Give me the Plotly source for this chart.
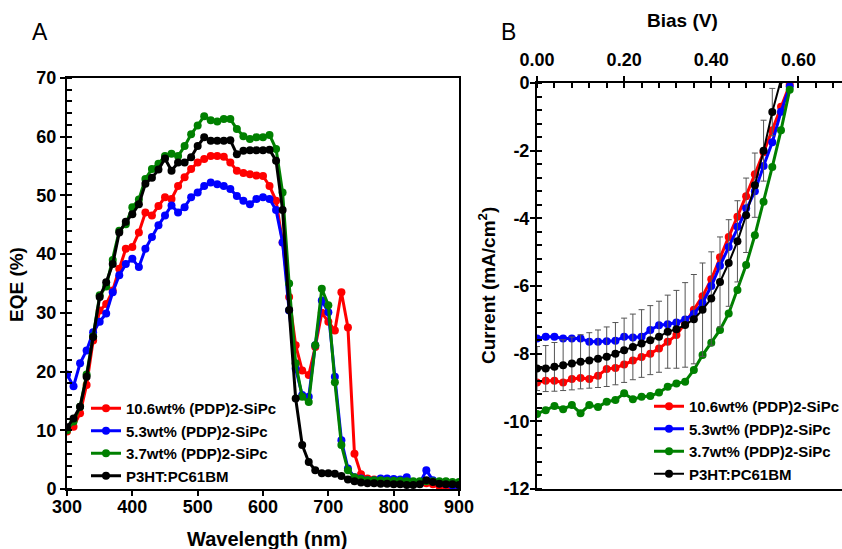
import plotly.graph_objects as go

# ---------------- Panel A : EQE ----------------
wavelength = list(range(300, 901, 10))

eqe_106 = [9.8, 10.6, 12.9, 17.7, 25.3, 30.4, 31.5, 33.8, 37.5, 40.9,
           41.2, 43.7, 47.1, 46.6, 48.2, 49.7, 49.4, 51.6, 53.1, 54.5,
           55.6, 56.2, 56.7, 56.7, 56.6, 55.6, 54.2, 53.8, 53.6, 53.4,
           53.3, 51.6, 49.1, 42.0, 32.7, 24.5, 20.2, 19.4, 24.2, 30.0,
           28.5, 27.0, 33.5, 27.5, 6.0, 2.5, 1.8, 1.6, 1.5, 1.5,
           1.5, 1.4, 1.3, 1.2, 1.2, 1.0, 0.8, 0.5, 0.4, 0.3, 0.3]
eqe_53 = [19.5, 17.5, 21.4, 23.6, 26.7, 28.5, 29.9, 33.5, 36.4, 38.3,
          39.2, 37.8, 40.9, 42.9, 44.9, 46.6, 48.3, 47.1, 48.0, 49.7,
          50.5, 51.6, 52.2, 51.9, 51.6, 51.1, 49.9, 49.1, 48.5, 49.4,
          49.7, 49.4, 47.5, 42.0, 30.4, 20.5, 16.0, 15.7, 24.5, 32.1,
          30.1, 19.1, 8.3, 3.5, 2.0, 1.8, 1.5, 1.5, 1.8, 1.8,
          1.7, 1.6, 2.0, 1.2, 1.0, 3.2, 1.5, 1.0, 0.8, 0.6, 0.5]
eqe_37 = [10.0, 11.5, 14.0, 19.5, 26.0, 33.0, 34.5, 39.0, 44.0, 45.1,
          48.0, 49.3, 52.8, 54.5, 55.4, 56.7, 57.1, 56.7, 58.4, 60.4,
          61.9, 63.5, 62.8, 62.6, 63.0, 63.0, 61.3, 60.1, 59.6, 59.9,
          59.9, 60.3, 57.9, 50.5, 35.0, 21.4, 15.7, 14.8, 24.5, 34.1,
          31.3, 18.2, 7.5, 3.2, 2.0, 1.7, 1.5, 1.5, 1.5, 1.4,
          1.4, 1.4, 1.3, 1.3, 1.3, 1.3, 1.3, 1.3, 1.3, 1.2, 1.2]
eqe_p3ht = [10.5, 12.0, 14.0, 19.1, 25.9, 32.7, 35.2, 38.3, 43.7, 45.5,
            46.8, 48.5, 52.0, 53.0, 54.4, 56.3, 54.2, 55.6, 55.6, 56.5,
            58.4, 59.9, 59.3, 59.3, 59.3, 59.4, 57.0, 57.6, 57.7, 57.7,
            57.7, 57.8, 55.9, 47.5, 30.5, 15.4, 7.5, 4.6, 3.2, 2.7,
            2.7, 2.6, 2.2, 1.6, 1.3, 1.1, 1.0, 1.0, 0.9, 0.9,
            0.8, 0.8, 0.7, 0.7, 0.8, 1.5, 1.2, 0.9, 0.8, 0.8, 0.7]

# ---------------- Panel B : J-V ----------------
bias = [round(0.02 * i, 2) for i in range(30)]

j_106 = [-8.85, -8.80, -8.80, -8.85, -8.75, -8.72, -8.75, -8.65, -8.45, -8.42,
         -8.32, -8.20, -8.10, -8.00, -7.85, -7.65, -7.45, -7.10, -6.70, -6.30,
         -5.80, -5.15, -4.55, -3.95, -3.35, -2.70, -2.05, -1.40, -0.70, -0.05]
j_53 = [-7.55, -7.50, -7.50, -7.55, -7.55, -7.55, -7.65, -7.65, -7.63, -7.62,
        -7.50, -7.52, -7.50, -7.30, -7.16, -7.13, -7.08, -6.99, -6.82, -6.50,
        -6.00, -5.40, -4.85, -4.25, -3.70, -3.20, -2.45, -1.75, -0.85, -0.10]
j_37 = [-9.78, -9.67, -9.55, -9.64, -9.52, -9.76, -9.52, -9.58, -9.42, -9.37,
        -9.17, -9.35, -9.27, -9.25, -9.15, -8.98, -8.88, -8.83, -8.48, -8.04,
        -7.68, -7.30, -6.81, -6.12, -5.38, -4.50, -3.51, -2.48, -1.40, -0.20]
bias_p3ht = [round(0.02 * i, 2) for i in range(29)]
j_p3ht = [-8.44, -8.44, -8.39, -8.34, -8.29, -8.24, -8.20, -8.15, -8.09, -8.00,
          -7.90, -7.80, -7.70, -7.60, -7.50, -7.35, -7.28, -7.15, -6.98, -6.70,
          -6.37, -5.88, -5.32, -4.68, -3.91, -3.02, -2.00, -0.86, 0.10]
j_p3ht_err = [0.65, 0.68, 0.72, 0.75, 0.78, 0.80, 0.82, 0.85, 0.88, 0.92,
              0.95, 0.97, 1.00, 1.02, 1.05, 1.08, 1.15, 1.25, 1.32, 1.38,
              1.38, 1.33, 1.28, 1.20, 1.10, 0.95, 0.90, 0.70, 0.0]

series_names = ["10.6wt% (PDP)2-SiPc", "5.3wt% (PDP)2-SiPc",
                "3.7wt% (PDP)2-SiPc", "P3HT:PC61BM"]
series_colors = ["#FF0000", "#0000FF", "#008000", "#000000"]

eqe_ticks = [0, 10, 20, 30, 40, 50, 60, 70]
wl_ticks = [300, 400, 500, 600, 700, 800, 900]
bias_ticks = [0.0, 0.2, 0.4, 0.6]
bias_ticktext = ["0.00", "0.20", "0.40", "0.60"]
cur_ticks = [0, -2, -4, -6, -8, -10, -12]
cur_ticktext = ["0", "-2", "-4", "-6", "-8", "-10", "-12"]

FONT = "Liberation Sans, Arial, sans-serif"

fig = go.Figure()

eqe_sets = [eqe_106, eqe_53, eqe_37, eqe_p3ht]
for name, col, ys in zip(series_names, series_colors, eqe_sets):
    fig.add_trace(go.Scatter(
        x=wavelength, y=ys, name=name, mode="lines+markers",
        line=dict(color=col, width=3), marker=dict(color=col, size=8),
        xaxis="x", yaxis="y", legend="legend"))

jv_sets = [(bias, j_106), (bias, j_53), (bias, j_37)]
for name, col, (xs, ys) in zip(series_names[:3], series_colors[:3], jv_sets):
    fig.add_trace(go.Scatter(
        x=xs, y=ys, name=name, mode="lines+markers",
        line=dict(color=col, width=3), marker=dict(color=col, size=8),
        xaxis="x2", yaxis="y2", legend="legend2"))
fig.add_trace(go.Scatter(
    x=bias_p3ht, y=j_p3ht, name=series_names[3], mode="lines+markers",
    line=dict(color="#000000", width=2), marker=dict(color="#000000", size=8),
    error_y=dict(type="data", array=j_p3ht_err, visible=True,
                 color="#555555", thickness=1, width=3),
    xaxis="x2", yaxis="y2", legend="legend2"))

tickfont = dict(family=FONT, size=18, color="black", weight="bold")
legfont = dict(family=FONT, size=15, color="black", weight="bold")

common = dict(showline=True, linewidth=2, linecolor="black", showgrid=False,
              zeroline=False, tickfont=tickfont, automargin=False,
              ticks="outside", ticklen=5, tickwidth=2, tickcolor="black")

fig.update_layout(
    width=842, height=549,
    margin=dict(l=0, r=0, t=0, b=0, autoexpand=False),
    paper_bgcolor="white", plot_bgcolor="white",
    font=dict(family=FONT, color="black"),
    xaxis=dict(domain=[67/842, 459/842], range=[300, 900], anchor="y",
               tickvals=wl_ticks, mirror=True, ticklabelstandoff=-5, **common),
    yaxis=dict(domain=[1-489/549, 1-78/549], range=[0, 70], anchor="x",
               tickvals=eqe_ticks, mirror=True,
               minor=dict(dtick=2, ticks="inside", ticklen=5, tickwidth=1.5,
                          tickcolor="black", showgrid=False),
               **common),
    xaxis2=dict(domain=[537/842, 1.0], range=[0, 0.7], anchor="y2", side="top",
                tickvals=bias_ticks, ticktext=bias_ticktext, mirror=True,
                ticklabelstandoff=3,
                minor=dict(dtick=0.04, ticks="inside", ticklen=5, tickwidth=1.5,
                           tickcolor="black", showgrid=False),
                **common),
    yaxis2=dict(domain=[1-489/549, 1-83/549], range=[-12, 0], anchor="x2",
                tickvals=cur_ticks, ticktext=cur_ticktext, mirror=False,
                ticklabelstandoff=-3,
                minor=dict(dtick=0.4, ticks="inside", ticklen=5, tickwidth=1.5,
                           tickcolor="black", showgrid=False),
                **common),
    legend=dict(x=86/842, y=1-392/549, xanchor="left", yanchor="top",
                bgcolor="rgba(0,0,0,0)", itemwidth=30, tracegroupgap=0,
                font=legfont),
    legend2=dict(x=649/842, y=1-390/549, xanchor="left", yanchor="top",
                 bgcolor="rgba(0,0,0,0)", itemwidth=30, tracegroupgap=0,
                 font=legfont),
    showlegend=True,
)

ann_font = dict(family=FONT, size=19, color="black", weight="bold")
def label(text, x, y, font, angle=0):
    fig.add_annotation(text=text, x=x/842, y=1-y/549, xref="paper", yref="paper",
                       xanchor="center", yanchor="middle", showarrow=False,
                       textangle=angle, font=font)

label("A", 40, 32, dict(family=FONT, size=23, color="black"))
label("B", 508, 32, dict(family=FONT, size=23, color="black"))
label("Wavelength (nm)", 267, 539, dict(ann_font, size=20))
label("EQE (%)", 16, 285, ann_font, -90)
label("Bias (V)", 682, 20, ann_font)
label("Current (mA/cm<sup>2</sup>)", 487, 286, ann_font, -90)

fig.write_html("out.html", config={"displayModeBar": False},
               post_script="document.body.style.margin='0px';")
